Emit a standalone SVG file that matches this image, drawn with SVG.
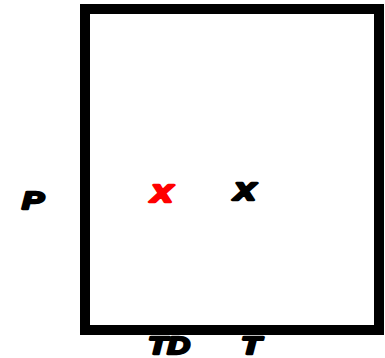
<svg xmlns="http://www.w3.org/2000/svg" width="385" height="358" viewBox="0 0 385 358">
<style>
.lbl{font-family:"Liberation Sans",Arial,sans-serif;font-weight:bold;font-style:italic;text-anchor:middle;stroke-width:2.4;stroke-linejoin:round}
.blk{fill:#000;stroke:#000}
.red{fill:#f00;stroke:#f00}
</style>
<rect width="385" height="358" fill="#fff"/>
<g id="frame"><rect x="85" y="9" width="294" height="321" fill="none" stroke="#000" stroke-width="10"/></g>
<g id="labels">
<text class="lbl blk" x="33" y="209" font-size="24" textLength="22" lengthAdjust="spacingAndGlyphs">P</text>
<text class="lbl red" x="162" y="202" font-size="32" textLength="22" lengthAdjust="spacingAndGlyphs">x</text>
<text class="lbl blk" x="245" y="200" font-size="32" textLength="22" lengthAdjust="spacingAndGlyphs">x</text>
<text class="lbl blk" x="169" y="354" font-size="24" textLength="42" lengthAdjust="spacingAndGlyphs">TD</text>
<text class="lbl blk" x="251" y="354" font-size="24" textLength="20" lengthAdjust="spacingAndGlyphs">T</text>
</g>
</svg>
